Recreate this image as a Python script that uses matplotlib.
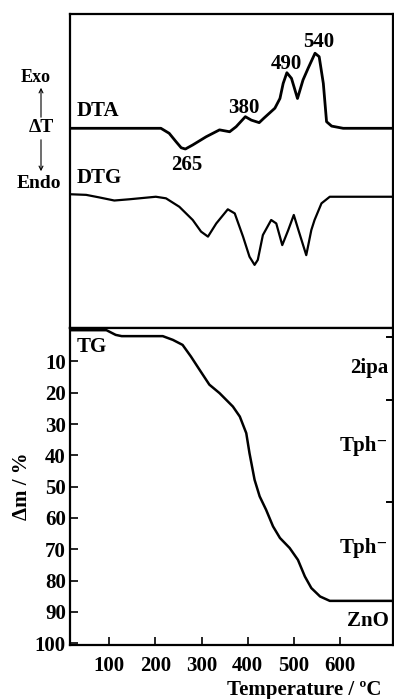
import matplotlib
matplotlib.use("Agg")
import matplotlib.pyplot as plt
from matplotlib.patches import FancyArrowPatch

plt.rcParams['font.family'] = ['Liberation Serif', 'DejaVu Serif']
plt.rcParams['font.weight'] = 'bold'

# DTA / DTG (arbitrary units), TG mass loss in %
dta_T = [15, 212, 230, 245, 256, 265, 281, 310, 339, 361, 375, 395, 408, 425, 435,
         459, 470, 477, 485, 495, 508, 520, 531, 546, 555, 564, 571, 582, 607, 715]
dta_v = [63.6, 63.6, 62.0, 59.3, 57.4, 57.0, 58.3, 60.9, 63.1, 62.5, 64.1, 67.3, 66.2,
         65.4, 66.8, 70.0, 73.1, 77.9, 81.3, 79.5, 73.1, 79.0, 82.7, 87.5, 86.4, 77.9,
         65.7, 64.3, 63.6, 63.6]

dtg_T = [15, 50, 78, 111, 144, 201, 223, 252, 281, 299, 314, 332, 357, 372, 390, 404,
         415, 422, 433, 451, 462, 475, 488, 500, 510, 527, 538, 545, 560, 578, 715]
dtg_v = [42.6, 42.4, 41.6, 40.6, 41.0, 41.8, 41.3, 38.6, 34.4, 30.7, 29.1, 33.3, 37.8,
         36.5, 29.1, 22.7, 20.1, 21.7, 29.6, 34.4, 33.3, 26.4, 31.2, 36.0, 31.2, 23.2,
         31.2, 34.4, 39.7, 41.8, 41.8]

tg_T = [15, 94, 114, 127, 216, 238, 259, 277, 296, 317, 339, 368, 383, 397, 404, 415,
        426, 440, 455, 470, 491, 509, 524, 538, 557, 578, 715]
tg_m = [0, 0, 1.5, 1.9, 1.9, 3.1, 4.7, 8.4, 12.7, 17.4, 20.1, 24.4, 27.6, 32.9, 39.3,
        47.8, 53.1, 57.4, 62.7, 66.4, 69.6, 73.4, 78.7, 82.4, 85.1, 86.5, 86.5]

peak_T = [265, 380, 490, 540]
step_edges = [2.1, 22.2, 54.8, 86.5]
step_labels = ['2ipa', 'Tph⁻', 'Tph⁻', 'ZnO']
step_pos = [12, 37, 69.5, 93]

W, H = 394, 699
fig = plt.figure(figsize=(W / 100, H / 100), dpi=100)

def fx(x):
    return x / W

def fy(y):
    return 1 - y / H

ax1 = fig.add_axes([fx(70), fy(328), fx(393) - fx(70), fy(14) - fy(328)])
ax2 = fig.add_axes([fx(70), fy(645), fx(393) - fx(70), fy(328) - fy(645)])

xlim = (15, 715)
fs = 15

# top panel
ax1.plot(dta_T, dta_v, color='black', lw=2.0)
ax1.plot(dtg_T, dtg_v, color='black', lw=1.6)
ax1.set_xlim(*xlim)
ax1.set_ylim(0, 100)
ax1.set_xticks([])
ax1.set_yticks([])
for s in ax1.spines.values():
    s.set_linewidth(1.6)

ax1.text(30, 66, 'DTA', fontsize=fs, fontweight='bold', va='bottom')
ax1.text(30, 44.5, 'DTG', fontsize=fs, fontweight='bold', va='bottom')
label_xy = [(268, 52), (392, 70), (483, 84), (553, 91)]
for t, (x, y) in zip(peak_T, label_xy):
    ax1.text(x, y, str(t), fontsize=fs, fontweight='bold', ha='center', va='center')

fig.text(fx(36), fy(77), 'Exo', fontsize=13, fontweight='bold', ha='center', va='center')
fig.text(fx(41), fy(128), 'ΔT', fontsize=14, fontweight='bold', ha='center', va='center')
fig.text(fx(39), fy(183), 'Endo', fontsize=14, fontweight='bold', ha='center', va='center')
fig.add_artist(FancyArrowPatch(
    (fx(41), fy(120)), (fx(41), fy(85)), transform=fig.transFigure,
    arrowstyle='->', mutation_scale=7, lw=0.8, color='black'))
fig.add_artist(FancyArrowPatch(
    (fx(41), fy(137)), (fx(41), fy(174)), transform=fig.transFigure,
    arrowstyle='->', mutation_scale=7, lw=0.8, color='black'))

# bottom panel
ax2.plot(tg_T, tg_m, color='black', lw=1.8)
ax2.set_xlim(*xlim)
ax2.set_ylim(100.6, -0.7)
ax2.set_xticks([100, 200, 300, 400, 500, 600])
ax2.set_yticks([10, 20, 30, 40, 50, 60, 70, 80, 90, 100])
ax2.tick_params(direction='in', length=6, width=1.2, labelsize=fs, pad=3)
ax2.tick_params(axis='x', pad=8)
for lab in ax2.get_xticklabels() + ax2.get_yticklabels():
    lab.set_fontweight('bold')
for s in ax2.spines.values():
    s.set_linewidth(1.6)
ax2.set_ylabel('Δm / %', fontsize=fs, fontweight='bold', labelpad=2)
fig.text(fx(381), fy(690), 'Temperature / ºC', fontsize=fs, fontweight='bold',
         ha='right', va='center')
ax2.text(30, 5.5, 'TG', fontsize=fs, fontweight='bold', va='center')

for e in step_edges:
    ax2.plot([xlim[1] - 12, xlim[1]], [e, e], color='black', lw=1.4)
for lab, p in zip(step_labels, step_pos):
    ax2.text(705, p, lab, fontsize=fs, fontweight='bold', ha='right', va='center')

fig.savefig('out.png', dpi=100)
